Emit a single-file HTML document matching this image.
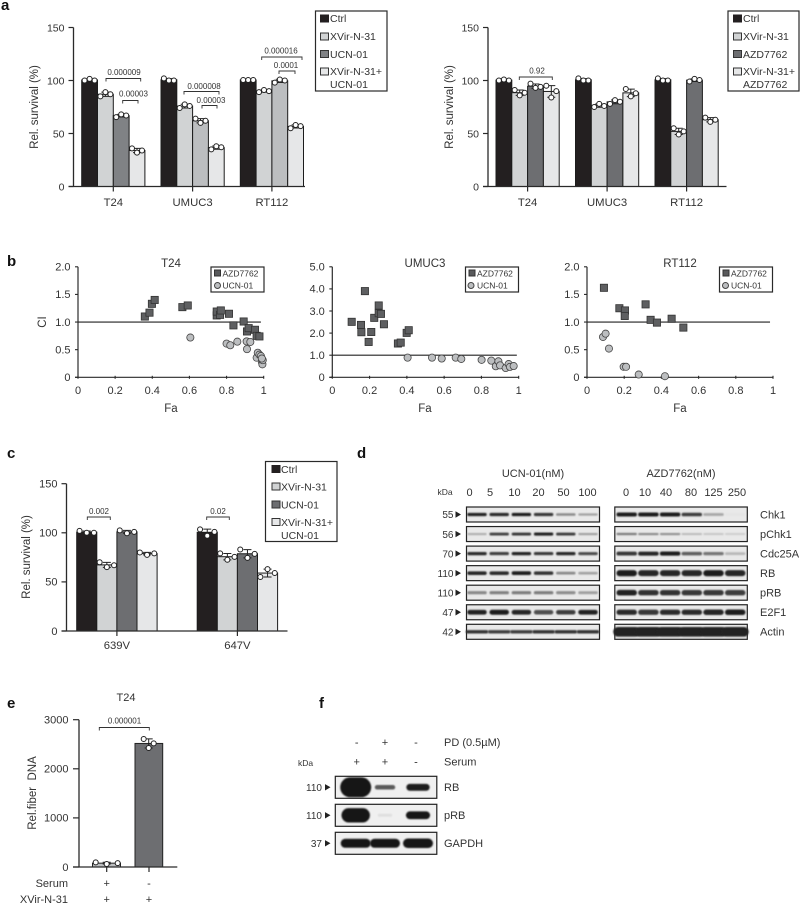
<!DOCTYPE html>
<html lang="en">
<head>
<meta charset="utf-8">
<title>Rel. survival, CI and blot figure</title>
<style>
html,body{margin:0;padding:0;background:#fff;}
svg{display:block;font-family:"Liberation Sans",Arial,sans-serif;filter:blur(.35px);}
text{fill:#333;}
.pl{font-size:15px;font-weight:bold;fill:#111;}
.lg{font-size:10.5px;}
.lgs{font-size:8.5px;}
.lb{font-size:11px;}
.yt{font-size:11.5px;}
.box{fill:#fff;stroke:#2a2a2a;stroke-width:1.2;}
</style>
</head>
<body>
<svg id="figure" xmlns="http://www.w3.org/2000/svg" width="800" height="905" viewBox="0 0 800 905">
<defs><filter id="bandBlur" x="-30%" y="-80%" width="160%" height="260%"><feGaussianBlur stdDeviation="0.7"/></filter></defs>

<text class="pl" x="1" y="10">a</text>
<text class="pl" x="7" y="266">b</text>
<text class="pl" x="7" y="458">c</text>
<text class="pl" x="357" y="458">d</text>
<text class="pl" x="7" y="708">e</text>
<text class="pl" x="319" y="708">f</text>

<text class="yt" transform="translate(38,107) rotate(-90)" text-anchor="middle">Rel. survival (%)</text>
<text class="yt" transform="translate(453,107) rotate(-90)" text-anchor="middle">Rel. survival (%)</text>
<text class="yt" transform="translate(30,557) rotate(-90)" text-anchor="middle">Rel. survival (%)</text>
<text class="yt" transform="translate(36,793) rotate(-90)" text-anchor="middle" xml:space="preserve">Rel.fiber  DNA</text>
<text class="yt" transform="translate(46,322) rotate(-90)" text-anchor="middle">CI</text>

<text class="yt" x="171" y="267" text-anchor="middle">T24</text>
<text class="yt" x="425" y="267" text-anchor="middle">UMUC3</text>
<text class="yt" x="680" y="267" text-anchor="middle">RT112</text>
<text class="yt" x="171" y="412" text-anchor="middle">Fa</text>
<text class="yt" x="425" y="412" text-anchor="middle">Fa</text>
<text class="yt" x="680" y="412" text-anchor="middle">Fa</text>
<text class="lb" x="126" y="701" text-anchor="middle">T24</text>

<g>
<rect class="box" x="315.5" y="11" width="71.5" height="80"/>
<rect x="320.5" y="15" width="8" height="7" fill="#231f20" stroke="#231f20"/><text class="lg" x="330" y="22">Ctrl</text>
<rect x="320.5" y="33" width="8" height="7" fill="#d1d3d4" stroke="#333"/><text class="lg" x="330" y="40">XVir-N-31</text>
<rect x="320.5" y="50.5" width="8" height="7" fill="#808285" stroke="#333"/><text class="lg" x="330" y="58">UCN-01</text>
<rect x="320.5" y="68" width="8" height="7" fill="#e6e7e8" stroke="#333"/><text class="lg" x="330" y="75">XVir-N-31+</text><text class="lg" x="330" y="88">UCN-01</text>
</g>
<g>
<rect class="box" x="728" y="11" width="71" height="80"/>
<rect x="733.5" y="15" width="8" height="7" fill="#231f20" stroke="#231f20"/><text class="lg" x="743" y="22">Ctrl</text>
<rect x="733.5" y="33" width="8" height="7" fill="#d1d3d4" stroke="#333"/><text class="lg" x="743" y="40">XVir-N-31</text>
<rect x="733.5" y="50.5" width="8" height="7" fill="#6d6e71" stroke="#333"/><text class="lg" x="743" y="58">AZD7762</text>
<rect x="733.5" y="68" width="8" height="7" fill="#e6e7e8" stroke="#333"/><text class="lg" x="743" y="75">XVir-N-31+</text><text class="lg" x="743" y="88">AZD7762</text>
</g>
<g>
<rect class="box" x="265.5" y="461.5" width="71.5" height="80"/>
<rect x="272" y="465.5" width="8" height="7" fill="#231f20" stroke="#231f20"/><text class="lg" x="281" y="473">Ctrl</text>
<rect x="272" y="483" width="8" height="7" fill="#d1d3d4" stroke="#333"/><text class="lg" x="281" y="490.5">XVir-N-31</text>
<rect x="272" y="501" width="8" height="7" fill="#6d6e71" stroke="#333"/><text class="lg" x="281" y="508.5">UCN-01</text>
<rect x="272" y="518.5" width="8" height="7" fill="#e6e7e8" stroke="#333"/><text class="lg" x="281" y="526">XVir-N-31+</text><text class="lg" x="281" y="539">UCN-01</text>
</g>
<g>
<rect class="box" x="211" y="267" width="53" height="25"/>
<rect x="214.5" y="270" width="6" height="6" fill="#58595b" stroke="#333"/><text class="lgs" x="222.5" y="276.5">AZD7762</text>
<circle cx="217.5" cy="285.5" r="3" fill="#bcbec0" stroke="#444"/><text class="lgs" x="222.5" y="288.5">UCN-01</text>
</g>
<g>
<rect class="box" x="465.5" y="267" width="53" height="25"/>
<rect x="469" y="270" width="6" height="6" fill="#58595b" stroke="#333"/><text class="lgs" x="477" y="276.5">AZD7762</text>
<circle cx="471" cy="285.5" r="3" fill="#bcbec0" stroke="#444"/><text class="lgs" x="477" y="288.5">UCN-01</text>
</g>
<g>
<rect class="box" x="719.5" y="267" width="53" height="25"/>
<rect x="723" y="270" width="6" height="6" fill="#58595b" stroke="#333"/><text class="lgs" x="731" y="276.5">AZD7762</text>
<circle cx="725.5" cy="285.5" r="3" fill="#bcbec0" stroke="#444"/><text class="lgs" x="731" y="288.5">UCN-01</text>
</g>

<text class="lb" x="533" y="477" text-anchor="middle">UCN-01(nM)</text>
<text class="lb" x="681" y="477" text-anchor="middle">AZD7762(nM)</text>
<text x="445" y="495" text-anchor="middle" font-size="8.5">kDa</text>

<text class="lb" x="444" y="746">PD (0.5µM)</text>
<text class="lb" x="444" y="765.5">Serum</text>
<text x="305.5" y="766" text-anchor="middle" font-size="8.5">kDa</text>

<text class="lb" x="68" y="887" text-anchor="end">Serum</text>
<text class="lb" x="68" y="903" text-anchor="end">XVir-N-31</text>
</svg>

<script>
/* ---------- Panel a (left) : replicate values per cell line ---------- */
const aLeftCategories = ['T24', 'UMUC3', 'RT112'];
const aLeftCtrl = [[100, 101.5, 100], [102, 100, 100], [100.5, 100.5, 100.5]];
const aLeftXvir = [[85, 89, 87], [74, 77.5, 76], [89, 91, 90]];
const aLeftUcn = [[65.5, 68, 67], [64, 60, 62], [98, 101, 100]];
const aLeftCombo = [[36, 32, 34], [35, 38, 37], [55, 58, 57]];
/* ---------- Panel a (right) ---------- */
const aRightCategories = ['T24', 'UMUC3', 'RT112'];
const aRightCtrl = [[100, 101, 100], [102, 100, 100], [102, 100, 100]];
const aRightXvir = [[91, 86, 88.5], [75, 78, 76], [55, 49, 52]];
const aRightAzd = [[97, 93, 94], [78, 81.5, 80], [99, 101.5, 100.5]];
const aRightCombo = [[95, 84, 90], [92, 85, 88], [65, 61, 63]];
/* ---------- Panel c ---------- */
const cCategories = ['639V', '647V'];
const cCtrl = [[102, 100, 100], [103.5, 97, 101]];
const cXvir = [[70, 65, 67], [79, 72.5, 75.5]];
const cUcn = [[102.5, 99.5, 101], [83, 74.5, 78.5]];
const cCombo = [[80, 77.5, 79], [55, 63, 59]];
const survivalTicks = [0, 50, 100, 150];
/* ---------- Panel b : Fa / CI pairs ---------- */
const t24AzdFa = [.36, .385, .398, .413, .562, .591, .747, .747, .765, .769, .813, .837, .892, .91, .919, .953, .962, .977];
const t24AzdCi = [1.10, 1.17, 1.33, 1.40, 1.27, 1.30, 1.12, 1.19, 1.13, 1.21, 1.15, .94, 1.01, .83, .89, .86, .75, .74];
const t24UcnFa = [.605, .80, .82, .858, .908, .91, .928, .962, .968, .977, .985, .99, .993, .995, .99];
const t24UcnCi = [.72, .61, .58, .645, .65, .51, .64, .355, .445, .41, .385, .28, .235, .31, .34];
const umucAzdFa = [.104, .175, .154, .156, .195, .209, .225, .249, .249, .261, .277, .352, .367, .399, .41];
const umucAzdCi = [2.51, 3.90, 2.37, 2.04, 1.60, 2.05, 2.69, 3.25, 2.90, 2.87, 2.40, 1.53, 1.57, 2.01, 2.13];
const umucUcnFa = [.404, .535, .587, .662, .692, .801, .853, .877, .891, .90, .93, .946, .953, .973];
const umucUcnCi = [.89, .89, .85, .89, .83, .79, .755, .50, .725, .54, .42, .60, .47, .51];
const rtAzdFa = [.091, .174, .204, .203, .315, .342, .376, .455, .518];
const rtAzdCi = [1.62, 1.25, 1.21, 1.11, 1.32, 1.04, .99, 1.06, .90];
const rtUcnFa = [.086, .10, .118, .197, .21, .278, .419];
const rtUcnCi = [.73, .79, .52, .19, .19, .05, .02];
const faTicks = ['0', '0.2', '0.4', '0.6', '0.8', '1'];
const ciTicksT24 = ['0', '0.5', '1.0', '1.5', '2.0'];
const ciTicksUmuc = ['0', '1.0', '2.0', '3.0', '4.0', '5.0'];
/* ---------- Panel d : band intensities per lane ---------- */
const ucnDoses = ['0', '5', '10', '20', '50', '100'];
const azdDoses = ['0', '10', '40', '80', '125', '250'];
const blotProteins = ['Chk1', 'pChk1', 'Cdc25A', 'RB', 'pRB', 'E2F1', 'Actin'];
const blotKda = ['55', '56', '70', '110', '110', '47', '42'];
const ucnBands = [
  [.92, .88, .95, .82, .45, .34],
  [.28, .78, .82, .92, .8, .35],
  [.88, .8, .92, .82, .9, .75],
  [.9, .88, .95, .85, .45, .34],
  [.46, .5, .52, .52, .44, .36],
  [.92, .96, .9, .72, .8, .92],
  [.85, .8, .8, .85, .85, .85]
];
const azdBands = [
  [.94, .96, .96, .8, .32, .03],
  [.52, .45, .42, .24, .18, .15],
  [.82, .9, .94, .65, .55, .24],
  [.95, .9, .9, .9, .95, .9],
  [.92, .85, .85, .82, .82, .8],
  [.88, .82, .88, .88, .9, .95],
  [.92, .92, .92, .92, .92, .92]
];
/* ---------- Panel e ---------- */
const eTicks = [0, 1000, 2000, 3000];
const eSerumSigns = ['+', '-'];
const eVirusSigns = ['+', '+'];
const eNoSerumFiber = [95, 60, 80];
const eSerumFiber = [2607, 2423, 2519];
/* ---------- Panel f ---------- */
const fPdSigns = ['-', '+', '-'];
const fSerumSigns = ['+', '+', '-'];
const fProteins = ['RB', 'pRB', 'GAPDH'];
const fKda = ['110', '110', '37'];
const fBands = [[1, .38, .55], [.85, .02, .6], [.66, .66, .68]];

const svg = document.getElementById('figure');
const NS = 'http://www.w3.org/2000/svg';
const INK = '#2a2a2a';

function make(tag, attrs, parent) {
  const node = document.createElementNS(NS, tag);
  for (const k in attrs) node.setAttribute(k, attrs[k]);
  (parent || svg).appendChild(node);
  return node;
}
function mean(a) { return a.reduce((s, v) => s + v, 0) / a.length; }
function sd(a) { const m = mean(a); return Math.sqrt(a.reduce((s, v) => s + (v - m) * (v - m), 0) / Math.max(1, a.length - 1)); }
function linear(d0, d1, r0, r1) { return v => r0 + (v - d0) / (d1 - d0) * (r1 - r0); }

function drawLine(x1, y1, x2, y2, w, color) {
  const el = make('line', { x1: x1, y1: y1, x2: x2, y2: y2, stroke: color || INK, 'stroke-width': w || 1.2 });
  
  
  return el;
}
function drawLabel(x, y, str, anchor, size) {
  const el = make('text', { x: x, y: y, 'text-anchor': anchor || 'middle', 'font-size': size || 10.5 });
  el.textContent = str;
  
  
  return el;
}
function drawBracket(x1, x2, y, label, textX, textY) {
  const el = make('path', { d: 'M' + x1 + ' ' + (y + 3) + 'V' + y + 'H' + x2 + 'V' + (y + 3), fill: 'none', stroke: '#333', 'stroke-width': .9 });
  
  
  const t = make('text', { x: textX, y: textY, 'text-anchor': 'middle', 'font-size': 8 });
  t.textContent = label;
  
  
}
function drawReplicateMark(x, values, spacing, y) {
  const m = mean(values), s = sd(values);
  const err = make('path', { d: 'M' + (x - 4) + ' ' + y(m - s) + 'H' + (x + 4) + 'M' + (x - 4) + ' ' + y(m + s) + 'H' + (x + 4) + 'M' + x + ' ' + y(m - s) + 'V' + y(m + s), fill: 'none', stroke: '#222', 'stroke-width': 1 });
  
  
  values.forEach((v, i) => {
    const c = make('circle', { cx: x + (i - 1) * spacing, cy: y(v), r: 2.5, fill: '#fff', stroke: '#222', 'stroke-width': 1 });
    
    
  });
}
function drawSurvivalChart(o) {
  const y = linear(0, 150, o.y0, o.y150);
  const barX = (g, s) => o.start + g * o.pitch + s * o.barW;
  o.series.forEach((values, s) => {
    values.forEach((reps, g) => {
      const fill = o.colorFor(s, g);
      const bar = make('rect', { x: barX(g, s), y: y(mean(reps)), width: o.barW, height: o.y0 - y(mean(reps)), fill: fill, stroke: '#1c1c1c', 'stroke-width': 1 });
      
      
    });
  });
  o.series.forEach((values, s) => {
    values.forEach((reps, g) => drawReplicateMark(barX(g, s) + o.barW / 2, reps, o.spacing, y));
  });
  drawLine(o.axisX, o.y150, o.axisX, o.y0, 1.3);
  drawLine(o.axisX - 5, o.y0, o.xEnd, o.y0, 1.3);
  survivalTicks.forEach(t => {
    drawLine(o.axisX - 5, y(t), o.axisX, y(t), 1.2);
    drawLabel(o.axisX - 9, y(t) + 3.8, String(t), 'end', o.tickSize);
  });
  o.categories.forEach((c, g) => {
    const cx = barX(g, 2);
    drawLine(cx, o.y0, cx, o.y0 + 5, 1.2);
    drawLabel(cx, o.labelY, c, 'middle', 11.3);
  });
}

const grayLight = '#d1d3d4', grayDark = '#6d6e71', grayPale = '#e6e7e8', black = '#231f20';
drawSurvivalChart({
  categories: aLeftCategories,
  series: [aLeftCtrl, aLeftXvir, aLeftUcn, aLeftCombo],
  colorFor: (s, g) => s === 0 ? black : s === 1 ? grayLight : s === 3 ? grayPale : (g === 0 ? '#808285' : '#bcbec0'),
  start: 81.7, pitch: 79.3, barW: 15.8, spacing: 5, axisX: 73.5, xEnd: 305, y0: 186.5, y150: 27.5, labelY: 206, tickSize: 10.5
});
drawSurvivalChart({
  categories: aRightCategories,
  series: [aRightCtrl, aRightXvir, aRightAzd, aRightCombo],
  colorFor: (s) => [black, grayLight, grayDark, grayPale][s],
  start: 496, pitch: 79.5, barW: 15.8, spacing: 5, axisX: 488, xEnd: 726.5, y0: 186.5, y150: 27.5, labelY: 206, tickSize: 10.5
});
drawSurvivalChart({
  categories: cCategories,
  series: [cCtrl, cXvir, cUcn, cCombo],
  colorFor: (s) => [black, grayLight, grayDark, grayPale][s],
  start: 76.7, pitch: 120.5, barW: 20.1, spacing: 7.2, axisX: 66.5, xEnd: 287.5, y0: 631, y150: 483.7, labelY: 649, tickSize: 11
});

drawBracket(106, 140.7, 78.5, '0.000009', 124, 75);
drawBracket(122.7, 138, 100.5, '0.00003', 133.5, 96.5);
drawBracket(184, 219, 91.5, '0.000008', 204, 89);
drawBracket(202, 217, 105.5, '0.00003', 211, 103);
drawBracket(261.7, 302, 57, '0.000016', 281, 53.5);
drawBracket(279, 295, 71, '0.0001', 286, 68);
drawBracket(519.3, 552.3, 77, '0.92', 537, 73.5);
drawBracket(87.3, 110.3, 517, '0.002', 99, 514);
drawBracket(206.7, 229.3, 517, '0.02', 218, 514);

/* Panel b */
function drawScatter(o) {
  const x = linear(0, 1, o.x0, o.x1);
  const y = linear(0, o.yMax, o.yBase, 266.8);
  drawLine(o.x0, 266.8, o.x0, o.yBase, 1.2);
  drawLine(o.x0 - 3, o.yBase, o.x1, o.yBase, 1.2);
  o.yTicks.forEach(t => {
    drawLine(o.x0 - 3, y(parseFloat(t)), o.x0, y(parseFloat(t)), 1.1);
    drawLabel(o.x0 - 7.5, y(parseFloat(t)) + 3.8, t, 'end', 11);
  });
  faTicks.forEach(t => {
    drawLine(x(parseFloat(t)), o.yBase - 1.5, x(parseFloat(t)), o.yBase + 1.5, 1.1);
    drawLabel(x(parseFloat(t)), 394, t, 'middle', 11);
  });
  const refLine = drawLine(o.x0, y(1), x(o.lineEnd), y(1), 1.2, '#222');
  
  o.azdFa.forEach((fa, i) => {
    const m = make('rect', { x: x(fa) - 3.6, y: y(o.azdCi[i]) - 3.6, width: 7.2, height: 7.2, fill: '#5e5f61', stroke: '#333', 'stroke-width': .8 });
    
    
  });
  o.ucnFa.forEach((fa, i) => {
    const m = make('circle', { cx: x(fa), cy: y(o.ucnCi[i]), r: 3.6, fill: '#bcbec0', stroke: '#444', 'stroke-width': .8 });
    
    
  });
}
drawScatter({ x0: 78, x1: 263.7, yBase: 377.3, yMax: 2, yTicks: ciTicksT24, lineEnd: .985, azdFa: t24AzdFa, azdCi: t24AzdCi, ucnFa: t24UcnFa, ucnCi: t24UcnCi });
drawScatter({ x0: 332.3, x1: 518.7, yBase: 377.3, yMax: 5, yTicks: ciTicksUmuc, lineEnd: .99, azdFa: umucAzdFa, azdCi: umucAzdCi, ucnFa: umucUcnFa, ucnCi: umucUcnCi });
drawScatter({ x0: 587, x1: 773, yBase: 377.3, yMax: 2, yTicks: ciTicksT24, lineEnd: .984, azdFa: rtAzdFa, azdCi: rtAzdCi, ucnFa: rtUcnFa, ucnCi: rtUcnCi });

/* Blots: band darkness is a solid gray so neighbouring bands merge without dark seams */
function drawBlotFrame(x, y, w, h, bg) {
  const el = make('rect', { x: x, y: y, width: w, height: h, fill: bg || '#e9e9e9', stroke: '#222', 'stroke-width': 1.2 });
  
  
}
function drawBand(cx, cy, w, h, darkness) {
  const level = Math.round(235 - Math.min(1, darkness) * 217);
  const el = make('rect', { x: cx - w / 2, y: cy - h / 2, width: w, height: h, rx: h / 2, fill: 'rgb(' + level + ',' + level + ',' + level + ')', filter: 'url(#bandBlur)' });
  
  
}
function drawArrow(x, y) {
  const el = make('path', { d: 'M' + x + ' ' + (y - 3.2) + 'L' + (x + 5.5) + ' ' + y + 'L' + x + ' ' + (y + 3.2) + 'Z', fill: '#222' });
  
  
}
const rowTop = i => 507 + i * 19.55;
const rowH = 15;
const laneUcn = i => 477 + i * 22.2;
const laneAzd = i => 626.7 + i * 21.7;
const bandBase = [3, 2.8, 3, 3.3, 3.6, 4.4, 3.2];
const azdBase = [3.8, 2.8, 4, 6, 5.6, 5.4, 9.5];
blotProteins.forEach((name, r) => {
  const top = rowTop(r), cy = top + rowH / 2;
  drawBlotFrame(466.5, top, 133, rowH);
  drawBlotFrame(614.8, top, 132.5, rowH);
  ucnBands[r].forEach((v, l) => drawBand(laneUcn(l), cy, name === 'Actin' ? 22.5 : 19.5, bandBase[r] * (.6 + .55 * v), v));
  azdBands[r].forEach((v, l) => drawBand(laneAzd(l), cy, name === 'Actin' ? 27 : 20.5, azdBase[r] * (.55 + .5 * v), v));
  drawLabel(453.5, cy + 3.7, blotKda[r], 'end', 10);
  drawArrow(455.5, cy);
  drawLabel(760, cy + 3.8, name, 'start', 11);
});
ucnDoses.forEach((d, i) => drawLabel([469.5, 490, 514.5, 538.5, 563.5, 587.5][i], 496, d, 'middle', 11));
azdDoses.forEach((d, i) => drawLabel([626, 645, 666, 691, 713.5, 737][i], 496, d, 'middle', 11));

/* Panel e */
(function () {
  const y = linear(0, 3000, 867, 719.7);
  const m1 = mean(eNoSerumFiber), m2 = mean(eSerumFiber);
  const b1 = make('rect', { x: 92.5, y: y(m1), width: 28, height: 867 - y(m1), fill: '#bcbec0', stroke: '#222', 'stroke-width': 1 });
  
  
  const b2 = make('rect', { x: 135, y: y(m2), width: 27.7, height: 867 - y(m2), fill: '#6d6e71', stroke: '#222', 'stroke-width': 1 });
  
  
  drawReplicateMark(106.7, eNoSerumFiber, 11, y);
  drawReplicateMark(148.7, eSerumFiber, 5, y);
  drawLine(79, 719.7, 79, 867, 1.3);
  drawLine(73, 867, 177.3, 867, 1.3);
  eTicks.forEach(t => {
    drawLine(73, y(t), 79, y(t), 1.2);
    drawLabel(68.5, y(t) + 3.8, String(t), 'end', 11);
  });
  [106.7, 149].forEach((cx, i) => {
    drawLine(cx, 867, cx, 872, 1.2);
    drawLabel(cx, 887, eSerumSigns[i], 'middle', 11);
    drawLabel(cx, 903, eVirusSigns[i], 'middle', 11);
  });
  drawBracket(99.3, 149.3, 727.5, '0.000001', 124.5, 723.5);
})();

/* Panel f */
const fLane = [355.7, 385, 418];
fProteins.forEach((name, r) => {
  const top = 776.3 + r * 28, cy = top + 11;
  drawBlotFrame(335.3, top, 101.5, 22, '#f0f0f0');
  fBands[r].forEach((v, l) => {
    const w = name === 'GAPDH' ? 30 : 14 + 17 * v;
    drawBand(fLane[l], cy, w, 3 + 17 * Math.pow(v, 2.5), Math.min(1, v * 1.7 + .02));
  });
  drawLabel(322, cy + 3.8, fKda[r], 'end', 10);
  drawArrow(325, cy);
  drawLabel(444, cy + 3.9, name, 'start', 11);
});
[356.7, 385, 416].forEach((cx, i) => {
  drawLabel(cx, 746, fPdSigns[i], 'middle', 11);
  drawLabel(cx, 765.5, fSerumSigns[i], 'middle', 11);
});
</script>
</body>
</html>
